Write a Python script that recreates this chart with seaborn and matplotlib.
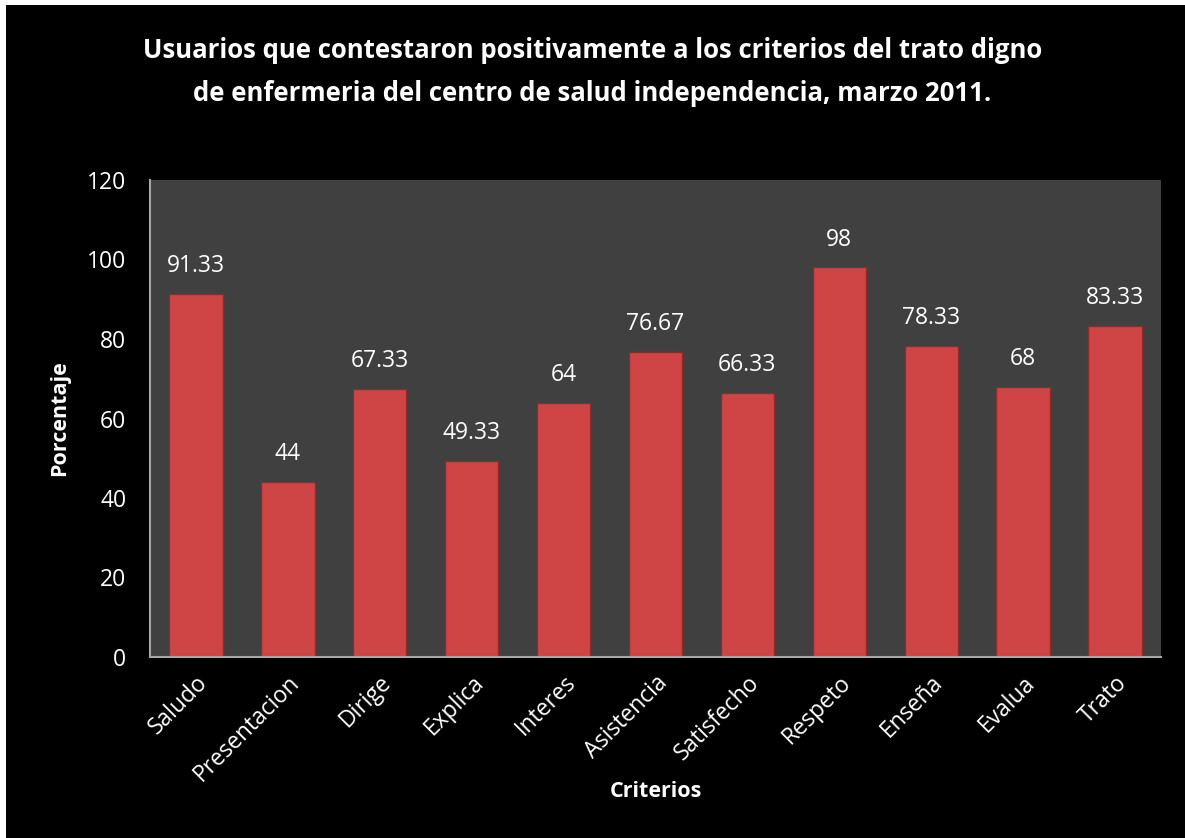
import matplotlib
matplotlib.use("Agg")
import matplotlib.pyplot as plt
import seaborn as sns
import pandas as pd
from matplotlib.patches import Rectangle

categories = ["Saludo", "Presentacion", "Dirige", "Explica", "Interes", "Asistencia",
              "Satisfecho", "Respeto", "Enseña", "Evalua", "Trato"]
values = [91.33, 44, 67.33, 49.33, 64, 76.67, 66.33, 98, 78.33, 68, 83.33]
labels = ["91.33", "44", "67.33", "49.33", "64", "76.67", "66.33", "98", "78.33", "68", "83.33"]
yticks = [0, 20, 40, 60, 80, 100, 120]

sns.set_theme(style="dark")
plt.rcParams['font.family'] = ['Open Sans', 'DejaVu Sans']

df = pd.DataFrame({"Criterios": categories, "Porcentaje": values})

fig = plt.figure(figsize=(11.85, 8.38), dpi=100)
fig.patch.set_facecolor("white")
fig.patches.append(Rectangle((6/1185, 0), 1, 1 - 5/838, transform=fig.transFigure,
                             facecolor="black", edgecolor="none", zorder=-10))

ax = fig.add_axes([150/1185, 1 - 657/838, (1161 - 150)/1185, (657 - 180)/838])
ax.set_facecolor("#404040")

sns.barplot(data=df, x="Criterios", y="Porcentaje", ax=ax, color="#CF4545",
            width=0.58, edgecolor="#902B2B", linewidth=1.0, saturation=1)

for i, (v, t) in enumerate(zip(values, labels)):
    ax.text(i, v + 4, t, ha="center", va="bottom", color="white", fontsize=16.5)

ax.set_ylim(0, 120)
ax.set_yticks(yticks)
ax.set_yticklabels([str(y) for y in yticks], color="white", fontsize=16.5)
ax.set_xticks(range(len(categories)))
ax.set_xticklabels(categories, rotation=45, ha="right", rotation_mode="anchor",
                   color="white", fontsize=16.5)
ax.tick_params(axis="y", length=0, pad=17)
ax.tick_params(axis="x", length=0, pad=10)
ax.set_xlim(-0.5, len(categories) - 0.5)

for s in ["top", "right"]:
    ax.spines[s].set_visible(False)
for s in ["left", "bottom"]:
    ax.spines[s].set_visible(True)
    ax.spines[s].set_color("#A6A6A6")
    ax.spines[s].set_linewidth(1.5)

ax.set_xlabel("Criterios", color="white", fontsize=15.5, fontweight="bold")
ax.xaxis.set_label_coords(0.5, -0.26)
ax.set_ylabel("Porcentaje", color="white", fontsize=15.5, fontweight="bold", labelpad=12)

fig.text(0.5, 1 - 72/838,
         "Usuarios que contestaron positivamente a los criterios del trato digno\n"
         "de enfermeria del centro de salud independencia, marzo 2011.",
         ha="center", va="center", color="white", fontsize=18.5, fontweight="bold",
         linespacing=1.75)

fig.savefig("out.png", dpi=100, facecolor=fig.get_facecolor())
